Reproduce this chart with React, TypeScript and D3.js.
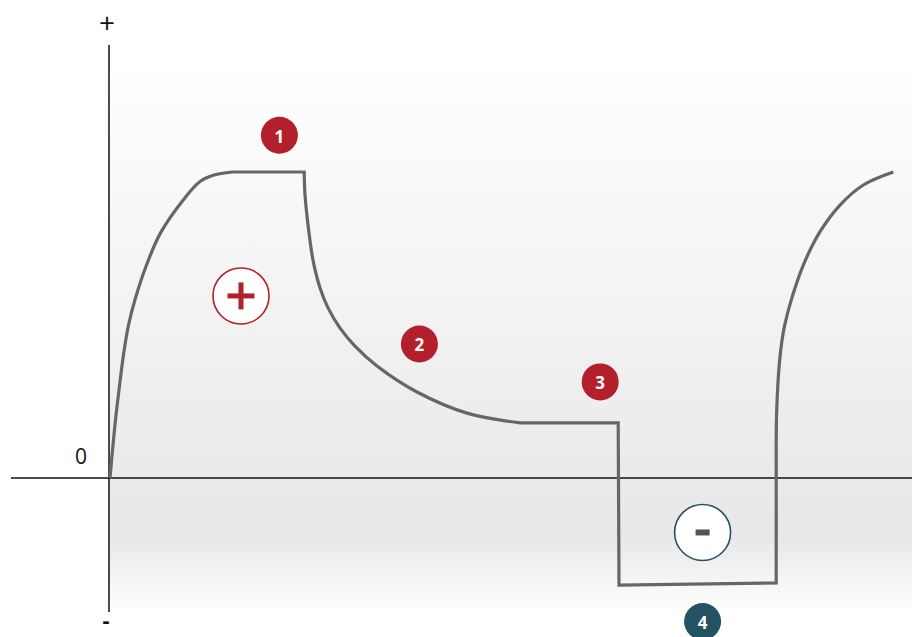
import React from "react";
import * as d3 from "d3";

// x: time units (0..100), y: percent of peak value
const riseX = [0.125, 0.44, 0.81, 1.25, 1.81, 2.44, 3.31, 4.69, 6.44, 9.38, 11.38, 13.13, 15.38];
const riseY = [0, 9.15, 18.95, 28.8, 40.2, 50, 58.8, 69.6, 80.1, 91.2, 96.9, 99.0, 100];
const plateauEndX = 24.4;
const decayX = [24.4, 24.5, 24.88, 25.5, 26.38, 27.38, 28.88, 30.75, 33.5, 38.5, 44.75, 51.4];
const decayY = [100, 92.5, 82.7, 71.2, 62.1, 55.6, 49.0, 43.1, 36.6, 28.1, 21.2, 18.0];
const holdEndX = 63.75;
const negStartY = -35;
const negEndX = 83.4;
const negEndY = -34.3;
const reRiseX = [83.4, 83.43, 83.54, 83.73, 84, 84.44, 85.34, 86.79, 88.88, 91.38, 94.29, 98.04];
const reRiseY = [10.8, 18.95, 27.1, 35.3, 42.5, 49.7, 58.7, 69.6, 80.5, 89.2, 95.75, 100];

// annotation markers
const markerLabels = ["1", "2", "3", "4"];
const markerX = [21.3, 38.8, 61.4, 74.2];
const markerY = [112, 43.8, 31.4, -46.9];
const markerColors = ["#b41f2c", "#b41f2c", "#b41f2c", "#245262"];
const signX = [16.5, 74.2];
const signY = [59.5, -17.8];

const W = 912;
const H = 637;
const x = d3.scaleLinear().domain([0, 100]).range([109, 909]);
const y = d3.scaleLinear().domain([0, 100]).range([478, 172]);

function seg(xs: number[], ys: number[], curve: any, first: boolean) {
  const pts = xs.map((v, i) => [x(v), y(ys[i])] as [number, number]);
  const p = d3.line().curve(curve)(pts) || "";
  return first ? p : "L" + p.slice(1);
}

export default function App() {
  const smooth = d3.curveCatmullRom.alpha(0.5);
  const path =
    seg(riseX, riseY, smooth, true) +
    seg([riseX[riseX.length - 1], plateauEndX], [100, 100], d3.curveLinear, false) +
    seg(decayX, decayY, smooth, false) +
    seg(
      [holdEndX - 0.1, holdEndX, negEndX, negEndX],
      [decayY[decayY.length - 1], negStartY, negEndY, reRiseY[0]],
      d3.curveLinear,
      false
    ) +
    seg(reRiseX, reRiseY, smooth, false);

  const font = "'Open Sans', 'Noto Sans', sans-serif";
  return (
    <svg
      width={W}
      height={H}
      style={{ position: "absolute", left: 0, top: 0, background: "#fff" }}
    >
      <defs>
        <linearGradient id="gUp" gradientUnits="userSpaceOnUse" x1="0" y1="60" x2="0" y2={y(0)}>
          <stop offset="0" stopColor="#ffffff" />
          <stop offset="1" stopColor="#ebeaeb" />
        </linearGradient>
        <linearGradient id="gDown" gradientUnits="userSpaceOnUse" x1="0" y1={y(0)} x2="0" y2="612">
          <stop offset="0" stopColor="#ebeaeb" />
          <stop offset="0.45" stopColor="#e9e8e9" />
          <stop offset="1" stopColor="#ffffff" />
        </linearGradient>
      </defs>
      <rect x={x(0)} y={60} width={W - x(0)} height={y(0) - 60} fill="url(#gUp)" />
      <rect x={x(0)} y={y(0)} width={W - x(0)} height={612 - y(0)} fill="url(#gDown)" />

      {/* axes */}
      <line x1={x(0)} x2={x(0)} y1={45} y2={612} stroke="#111" strokeWidth={1.5} />
      <line x1={11} x2={W} y1={y(0)} y2={y(0)} stroke="#111" strokeWidth={1.5} />

      <path d={path} fill="none" stroke="#666" strokeWidth={3.2} strokeLinejoin="miter" />

      {/* axis labels */}
      <text x={107} y={22} fontFamily={font} fontSize={28} textAnchor="middle" dominantBaseline="central" fill="#111">+</text>
      <text x={81} y={456} fontFamily={font} fontSize={21} textAnchor="middle" dominantBaseline="central" fill="#111">0</text>
      <text x={106} y={619} fontFamily={font} fontSize={22} fontWeight={700} textAnchor="middle" dominantBaseline="central" fill="#111">-</text>

      {/* sign circles */}
      <circle cx={x(signX[0])} cy={y(signY[0])} r={28} fill="#fff" stroke="#b41f2c" strokeWidth={1.6} />
      <rect x={x(signX[0]) - 13.5} y={y(signY[0]) - 2.5} width={27} height={5} fill="#b41f2c" />
      <rect x={x(signX[0]) - 2.5} y={y(signY[0]) - 13.5} width={5} height={27} fill="#b41f2c" />
      <circle cx={x(signX[1])} cy={y(signY[1])} r={28} fill="#fff" stroke="#245262" strokeWidth={1.6} />
      <rect x={x(signX[1]) - 7} y={y(signY[1]) - 3} width={14} height={6} fill="#555" />

      {/* numbered markers */}
      {markerLabels.map((lab, i) => (
        <g key={lab}>
          <circle cx={x(markerX[i])} cy={y(markerY[i])} r={18.5} fill={markerColors[i]} />
          <text
            x={x(markerX[i])}
            y={y(markerY[i]) + 1}
            fontFamily={font}
            fontWeight={700}
            fontSize={17}
            fill="#fff"
            textAnchor="middle"
            dominantBaseline="central"
          >
            {lab}
          </text>
        </g>
      ))}
    </svg>
  );
}
